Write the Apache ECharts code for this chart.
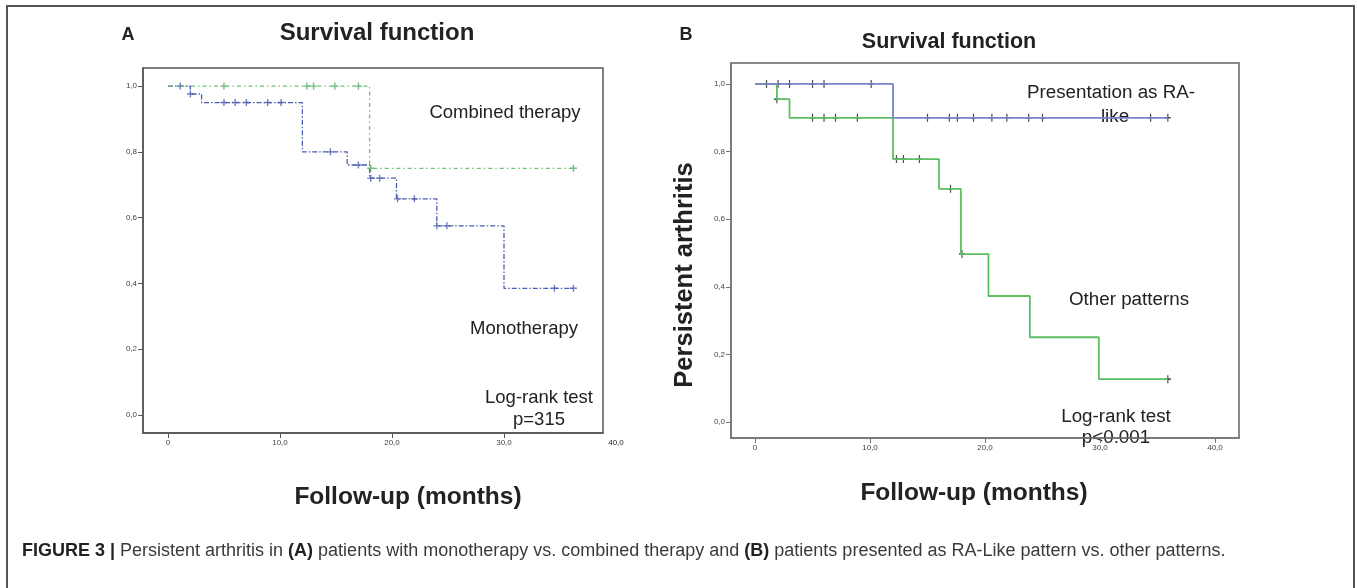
<!DOCTYPE html>
<html>
<head>
<meta charset="utf-8">
<script src="https://cdn.jsdelivr.net/npm/echarts@6/dist/echarts.min.js"></script>
<style>
html, body { margin: 0; padding: 0; background: #fff; }
#chart { width: 1357px; height: 588px; }
</style>
</head>
<body>
<div id="chart"></div>
<script>
// panel A: monotherapy vs combined therapy
var monoTime = [0, 2, 3, 12, 16, 18, 20.4, 24, 30, 36.2];
var monoSurv = [1, 0.976, 0.95, 0.80, 0.76, 0.72, 0.657, 0.575, 0.385, 0.385];
var monoCensorTime = [1.1, 2, 5, 6, 7, 8.9, 10.1, 14.5, 17, 18.1, 18.9, 20.5, 22, 24, 24.9, 34.5, 36.2];
var monoCensorSurv = [1, 0.976, 0.95, 0.95, 0.95, 0.95, 0.95, 0.80, 0.76, 0.72, 0.72, 0.657, 0.657, 0.575, 0.575, 0.385, 0.385];
var comboTime = [0, 18, 36.2];
var comboSurv = [1, 0.75, 0.75];
var comboCensorTime = [5, 12.4, 13, 14.9, 17, 18.1, 36.2];
var comboCensorSurv = [1, 1, 1, 1, 1, 0.75, 0.75];

// panel B: RA-like vs other patterns
var raTime = [0, 12, 35.9];
var raSurv = [1, 0.90, 0.90];
var raCensorTime = [1, 2, 3, 5, 6, 10.1, 15, 16.9, 17.6, 19, 20.6, 21.9, 23.8, 25, 34.4, 35.9];
var raCensorSurv = [1, 1, 1, 1, 1, 1, 0.9, 0.9, 0.9, 0.9, 0.9, 0.9, 0.9, 0.9, 0.9, 0.9];
var otherTime = [0, 1.9, 3, 12, 16, 17.9, 20.3, 23.9, 29.9, 35.9];
var otherSurv = [1, 0.955, 0.90, 0.778, 0.69, 0.497, 0.373, 0.251, 0.127, 0.127];
var otherCensorTime = [1.9, 5, 6, 7, 8.9, 12.3, 12.9, 14.3, 17, 18, 35.9];
var otherCensorSurv = [0.955, 0.9, 0.9, 0.9, 0.9, 0.778, 0.778, 0.778, 0.69, 0.497, 0.127];

var xTicksA = [0, 10, 20, 30];
var xTicksB = [0, 10, 20, 30, 40];
var yTicks = [0, 0.2, 0.4, 0.6, 0.8, 1.0];

var FONT = '"Liberation Sans", Arial, Helvetica, sans-serif';
var PLUS = 'path://M4,0 H6 V4 H10 V6 H6 V10 H4 V6 H0 V4 H4 Z';

function zip(xs, ys) {
	return xs.map(function (x, i) { return [x, ys[i]]; });
}
function comma(v) {
	return v.toFixed(1).replace('.', ',');
}

function xAxis(idx, min, max, ticks, col) {
	return {
		gridIndex: idx, type: 'value', min: min, max: max,
		splitLine: { show: false },
		axisLine: { onZero: false, lineStyle: { color: col, width: 1.5 } },
		axisTick: { customValues: ticks, length: 5, lineStyle: { color: col } },
		axisLabel: {
			customValues: ticks, fontSize: 8, color: '#444', margin: 6, fontFamily: FONT,
			formatter: function (v) { return v === 0 ? '0' : comma(v); }
		}
	};
}
function yAxis(idx, min, max, col) {
	return {
		gridIndex: idx, type: 'value', min: min, max: max,
		splitLine: { show: false },
		axisLine: { onZero: false, lineStyle: { color: col, width: 1.5 } },
		axisTick: { customValues: yTicks, length: 5, lineStyle: { color: col } },
		axisLabel: {
			customValues: yTicks, fontSize: 8, color: '#444', margin: 6, fontFamily: FONT,
			formatter: comma
		}
	};
}

function txt(x, y, s, size, weight, align) {
	return {
		type: 'text', x: x, y: y,
		style: {
			text: s, fill: '#222', font: (weight || 'normal') + ' ' + size + 'px ' + FONT,
			align: align || 'center', verticalAlign: 'middle',
			textAlign: align || 'center', textVerticalAlign: 'middle'
		}
	};
}

var chart = echarts.init(document.getElementById('chart'));
chart.setOption({
	animation: false,
	grid: [
		{ left: 143, top: 68, width: 460, height: 365, show: true, borderColor: '#555', borderWidth: 1.5 },
		{ left: 731, top: 63, width: 508, height: 375, show: true, borderColor: '#888', borderWidth: 2 }
	],
	xAxis: [
		xAxis(0, -2.23, 38.84, xTicksA, '#555'),
		xAxis(1, -2.09, 42.09, xTicksB, '#777')
	],
	yAxis: [
		yAxis(0, -0.055, 1.055, '#555'),
		yAxis(1, -0.047, 1.062, '#777')
	],
	series: [
		{
			type: 'line', xAxisIndex: 0, yAxisIndex: 0, step: 'end', showSymbol: false,
			data: zip(monoTime, monoSurv),
			lineStyle: { color: '#4b5cb0', width: 1.3, type: [5, 2, 1.5, 2] }
		},
		{
			type: 'line', xAxisIndex: 0, yAxisIndex: 0, step: 'end', showSymbol: false,
			data: zip(comboTime, comboSurv),
			lineStyle: { color: '#6cc27a', width: 1.3, type: [4, 3, 1.5, 3] }
		},
		{
			type: 'scatter', xAxisIndex: 0, yAxisIndex: 0, symbol: PLUS, symbolSize: [7, 7],
			data: zip(monoCensorTime, monoCensorSurv), itemStyle: { color: '#4b5cb0' }
		},
		{
			type: 'scatter', xAxisIndex: 0, yAxisIndex: 0, symbol: PLUS, symbolSize: [7, 7],
			data: zip(comboCensorTime, comboCensorSurv), itemStyle: { color: '#4fae5e' }
		},
		{
			type: 'line', xAxisIndex: 1, yAxisIndex: 1, step: 'end', showSymbol: false,
			data: zip(otherTime, otherSurv),
			lineStyle: { color: '#5cbf64', width: 1.8 }
		},
		{
			type: 'line', xAxisIndex: 1, yAxisIndex: 1, step: 'end', showSymbol: false,
			data: zip(raTime, raSurv),
			lineStyle: { color: '#7585c8', width: 1.8 }
		},
		{
			type: 'scatter', xAxisIndex: 1, yAxisIndex: 1, symbol: PLUS, symbolSize: [6, 8],
			data: zip(raCensorTime, raCensorSurv), itemStyle: { color: '#222' }
		},
		{
			type: 'scatter', xAxisIndex: 1, yAxisIndex: 1, symbol: PLUS, symbolSize: [6, 8],
			data: zip(otherCensorTime, otherCensorSurv), itemStyle: { color: '#222' }
		}
	],
	graphic: [
		{ type: 'rect', shape: { x: 7, y: 6, width: 1347, height: 600 }, style: { fill: 'none', stroke: '#555', lineWidth: 2 } },
		txt(128, 35, 'A', 18, 'bold'),
		txt(377, 33, 'Survival function', 24, 'bold'),
		txt(686, 35, 'B', 18, 'bold'),
		txt(949, 42, 'Survival function', 21.5, 'bold'),
		txt(616, 443, '40,0', 8),
		txt(505, 113, 'Combined therapy', 18.5),
		txt(524, 329, 'Monotherapy', 18.5),
		txt(539, 398, 'Log-rank test', 18.5),
		txt(539, 420, 'p=315', 18.5),
		txt(408, 497, 'Follow-up (months)', 24.5, 'bold'),
		txt(1111, 93, 'Presentation as RA-', 18.8),
		txt(1115, 117, 'like', 18.8),
		txt(1129, 300, 'Other patterns', 18.8),
		txt(1116, 417, 'Log-rank test', 18.8),
		txt(1116, 438, 'p<0.001', 18.8),
		txt(974, 493, 'Follow-up (months)', 24.5, 'bold'),
		{
			type: 'text', x: 685, y: 275, rotation: Math.PI / 2,
			style: {
				text: 'Persistent arthritis', fill: '#222', font: 'bold 25.5px ' + FONT,
				align: 'center', verticalAlign: 'middle', textAlign: 'center', textVerticalAlign: 'middle'
			}
		},
		{
			type: 'text', x: 22, y: 551,
			style: {
				text: '{b|FIGURE 3 |} Persistent arthritis in {b|(A)} patients with monotherapy vs. combined therapy and {b|(B)} patients presented as RA-Like pattern vs. other patterns.',
				fill: '#3a3a3a', font: '18px ' + FONT,
				align: 'left', verticalAlign: 'middle', textAlign: 'left', textVerticalAlign: 'middle',
				rich: { b: { fontWeight: 'bold', fontSize: 18, fontFamily: FONT, fill: '#222' } }
			}
		}
	]
});
</script>
</body>
</html>
